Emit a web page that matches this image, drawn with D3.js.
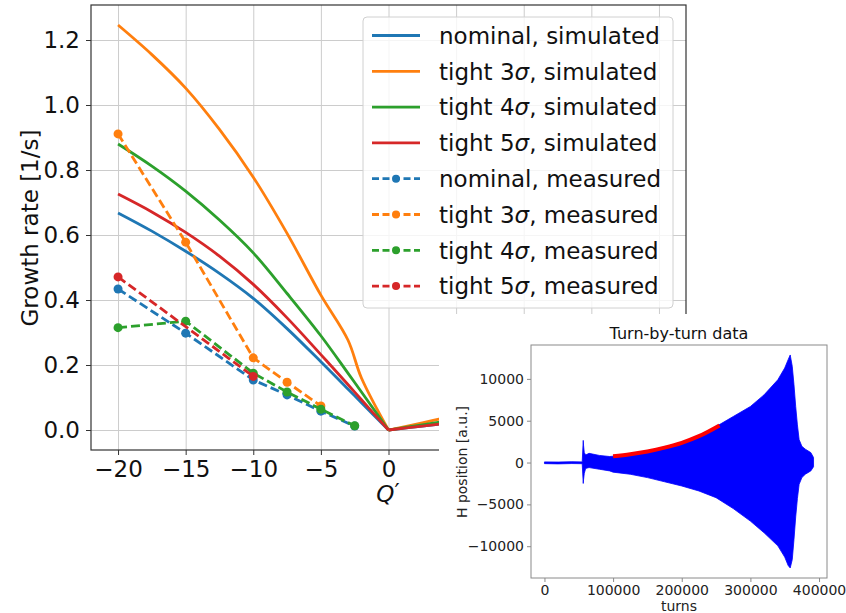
<!DOCTYPE html>
<html>
<head>
<meta charset="utf-8">
<script src="https://cdn.jsdelivr.net/npm/d3@7"></script>
<style>
  body { margin: 0; background: #fff; }
  svg { font-family: "DejaVu Sans", sans-serif; }
  .grid line { stroke: #cccccc; stroke-width: 1; }
  .grid path { display: none; }
</style>
</head>
<body>
<script>
// data
const seriesNames = ["nominal", "tight 3", "tight 4", "tight 5"];
const seriesColors = ["#1f77b4", "#ff7f0e", "#2ca02c", "#d62728"];

// simulated growth rates vs Q'
const simQ = [-20, -17.5, -15, -12.5, -10, -7.5, -5, -3, -2, 0, 2.5, 5, 10, 20];
const simNominal = [0.668, 0.612, 0.550, 0.482, 0.405, 0.312, 0.210, 0.126, 0.084, 0, 0.012, 0.024, 0.05, 0.1];
const simTight3 = [1.246, 1.155, 1.052, 0.925, 0.778, 0.605, 0.415, 0.277, 0.160, 0, 0.022, 0.045, 0.09, 0.18];
const simTight4 = [0.880, 0.812, 0.735, 0.646, 0.545, 0.420, 0.290, 0.175, 0.117, 0, 0.016, 0.032, 0.065, 0.13];
const simTight5 = [0.726, 0.671, 0.608, 0.535, 0.448, 0.345, 0.232, 0.140, 0.093, 0, 0.012, 0.024, 0.05, 0.1];

// measured growth rates (null = no measurement)
const measQ = [-20, -15, -10, -7.5, -5, -2.5];
const measNominal = [0.434, 0.298, 0.154, 0.108, 0.058, 0.012];
const measTight3 = [0.911, 0.578, 0.222, 0.147, 0.074, null];
const measTight4 = [0.315, 0.335, 0.175, 0.117, 0.064, 0.013];
const measTight5 = [0.471, null, 0.165, null, null, null];

const mainXTicks = [-20, -15, -10, -5, 0];
const mainYTicks = [0, 0.2, 0.4, 0.6, 0.8, 1.0, 1.2];

// inset: turn-by-turn envelope
const tbtTurns = [0, 20000, 40000, 55000, 56500, 57000, 58000, 60000, 65000, 80000, 95000, 100000,
  125000, 150000, 175000, 200000, 225000, 250000, 275000, 300000, 320000, 340000, 350000, 355000,
  358000, 361000, 363500, 366000, 368500, 371000, 375000, 380000, 388000, 392000];
const tbtUpper = [80, 60, 100, 80, 2650, 2000, 1200, 900, 1100, 850, 720, 760,
  1020, 1350, 1800, 2400, 3200, 4300, 5500, 6700, 8100, 9900, 11300, 12300,
  12860, 11500, 9300, 6700, 4500, 2740, 1940, 1600, 1190, 600];
const tbtLower = [-130, -160, -120, -140, -2500, -2000, -1300, -700, -600, -800, -1000, -1150,
  -1400, -1800, -2300, -2800, -3400, -4200, -5500, -7000, -8400, -9960, -11300, -12300,
  -12600, -11600, -9200, -6500, -4300, -2600, -1800, -1400, -1000, -500];
const fitTurns = [100000, 125000, 150000, 175000, 200000, 225000, 255000];
const fitValues = [750, 1000, 1330, 1780, 2360, 3150, 4440];
const insetXTicks = [0, 100000, 200000, 300000, 400000];
const insetYTicks = [-10000, -5000, 0, 5000, 10000];

const svgWidth = 846, svgHeight = 613;
const main = { left: 91, top: 5, right: 686, bottom: 450 };
const inset = { left: 531, top: 345, right: 827, bottom: 578 };

let svg = d3.select("body").append("svg")
    .attr("width", svgWidth)
    .attr("height", svgHeight);

// ---------- main plot ----------
let x = d3.scaleLinear().domain([-22, 22]).range([main.left, main.right]);
let y = d3.scaleLinear().domain([-0.0615, 1.3077]).range([main.bottom, main.top]);

svg.append("defs").append("clipPath").attr("id", "mainclip")
  .append("rect")
    .attr("x", main.left).attr("y", main.top)
    .attr("width", main.right - main.left).attr("height", main.bottom - main.top);

// gridlines
svg.append("g").attr("class", "grid")
    .attr("transform", `translate(0, ${main.bottom})`)
    .call(d3.axisBottom(x).tickValues([-20, -15, -10, -5, 0, 5, 10, 15, 20]).tickSize(-(main.bottom - main.top)).tickFormat(""));
svg.append("g").attr("class", "grid")
    .attr("transform", `translate(${main.left}, 0)`)
    .call(d3.axisLeft(y).tickValues(mainYTicks).tickSize(-(main.right - main.left)).tickFormat(""));

let plot = svg.append("g").attr("clip-path", "url(#mainclip)");

const simSeries = [simNominal, simTight3, simTight4, simTight5];
const measSeries = [measNominal, measTight3, measTight4, measTight5];

// smooth on each side of Q' = 0, keep the corner at 0
let simLine = d3.line()
    .curve(d3.curveCatmullRom.alpha(0.5))
    .x((d) => x(d.q))
    .y((d) => y(d.v));
let measLine = d3.line()
    .x((d) => x(d.q))
    .y((d) => y(d.v));

simSeries.forEach((vals, i) => {
    let pts = simQ.map((q, j) => ({ q: q, v: vals[j] }));
    [pts.filter((d) => d.q <= 0), pts.filter((d) => d.q >= 0)].forEach((part) => {
        plot.append("path")
            .attr("d", simLine(part))
            .attr("fill", "none")
            .attr("stroke", seriesColors[i])
            .attr("stroke-width", 2.8);
    });
});

measSeries.forEach((vals, i) => {
    let pts = measQ.map((q, j) => ({ q: q, v: vals[j] })).filter((d) => d.v !== null);
    plot.append("path")
        .attr("d", measLine(pts))
        .attr("fill", "none")
        .attr("stroke", seriesColors[i])
        .attr("stroke-width", 2.8)
        .attr("stroke-dasharray", "9,4");
    plot.selectAll(null)
        .data(pts)
        .join("circle")
        .attr("cx", (d) => x(d.q))
        .attr("cy", (d) => y(d.v))
        .attr("r", 4.5)
        .attr("fill", seriesColors[i]);
});

// frame
svg.append("rect")
    .attr("x", main.left).attr("y", main.top)
    .attr("width", main.right - main.left).attr("height", main.bottom - main.top)
    .attr("fill", "none").attr("stroke", "#333").attr("stroke-width", 1.2);

// axes
let xAxis = svg.append("g")
    .attr("transform", `translate(0, ${main.bottom})`)
    .call(d3.axisBottom(x).tickValues(mainXTicks).tickSize(5).tickPadding(6).tickFormat(d3.format("d")));
let yAxis = svg.append("g")
    .attr("transform", `translate(${main.left}, 0)`)
    .call(d3.axisLeft(y).tickValues(mainYTicks).tickSize(5).tickPadding(6).tickFormat(d3.format(".1f")));
[xAxis, yAxis].forEach((a) => {
    a.select(".domain").remove();
    a.selectAll(".tick line").attr("stroke", "#333");
    a.selectAll("text").attr("font-size", 23).attr("fill", "#111").attr("font-family", "DejaVu Sans");
});

svg.append("text")
    .attr("transform", "translate(38, 228) rotate(-90)")
    .attr("text-anchor", "middle")
    .attr("font-size", 23)
    .attr("fill", "#111")
    .text("Growth rate [1/s]");

let qLabel = svg.append("text")
    .attr("x", 388).attr("y", 502)
    .attr("text-anchor", "middle")
    .attr("font-size", 23)
    .attr("fill", "#111");
qLabel.append("tspan").attr("font-style", "italic").text("Q");
qLabel.append("tspan").attr("dy", -2).text("′");

// legend
let legend = svg.append("g");
legend.append("rect")
    .attr("x", 363).attr("y", 17).attr("width", 310).attr("height", 291)
    .attr("rx", 4)
    .attr("fill", "#fff").attr("fill-opacity", 0.8)
    .attr("stroke", "#d0d0d0");

let legendItems = [];
["simulated", "measured"].forEach((kind) => {
    seriesNames.forEach((name, i) => legendItems.push({ name: name, kind: kind, color: seriesColors[i] }));
});

legendItems.forEach((d, i) => {
    let ly = 35.5 + i * 35.8;
    legend.append("line")
        .attr("x1", 372).attr("x2", 420).attr("y1", ly).attr("y2", ly)
        .attr("stroke", d.color).attr("stroke-width", 2.8)
        .attr("stroke-dasharray", d.kind == "measured" ? "7,3.5" : null);
    if (d.kind == "measured") {
        legend.append("circle").attr("cx", 396).attr("cy", ly).attr("r", 4).attr("fill", d.color);
    }
    let t = legend.append("text")
        .attr("x", 439).attr("y", ly).attr("dy", "0.36em")
        .attr("font-size", 23).attr("fill", "#111");
    if (d.name == "nominal") {
        t.append("tspan").text("nominal, " + d.kind);
    } else {
        t.append("tspan").text(d.name);
        t.append("tspan").attr("font-style", "italic").text("σ");
        t.append("tspan").text(", " + d.kind);
    }
});

// ---------- inset ----------
svg.append("rect")
    .attr("x", 439).attr("y", 314).attr("width", svgWidth - 439).attr("height", svgHeight - 314)
    .attr("fill", "#fff");

let ix = d3.scaleLinear().domain([-19600, 411600]).range([inset.left, inset.right]);
let iy = d3.scaleLinear().domain([-13800, 14050]).range([inset.bottom, inset.top]);

let tbt = tbtTurns.map((t, j) => ({ t: t, hi: tbtUpper[j], lo: tbtLower[j] }));
svg.append("path")
    .attr("d", d3.area().x((d) => ix(d.t)).y0((d) => iy(d.lo)).y1((d) => iy(d.hi))(tbt))
    .attr("fill", "#0000ff")
    .attr("stroke", "#0000ff")
    .attr("stroke-width", 0.8);

let fit = fitTurns.map((t, j) => ({ t: t, v: fitValues[j] }));
svg.append("path")
    .attr("d", d3.line().curve(d3.curveMonotoneX).x((d) => ix(d.t)).y((d) => iy(d.v))(fit))
    .attr("fill", "none")
    .attr("stroke", "#ff0000")
    .attr("stroke-width", 4);

svg.append("rect")
    .attr("x", inset.left).attr("y", inset.top)
    .attr("width", inset.right - inset.left).attr("height", inset.bottom - inset.top)
    .attr("fill", "none").attr("stroke", "#8a8a8a").attr("stroke-width", 1);

let ixAxis = svg.append("g")
    .attr("transform", `translate(0, ${inset.bottom})`)
    .call(d3.axisBottom(ix).tickValues(insetXTicks).tickSize(4).tickPadding(3).tickFormat(d3.format("d")));
let iyAxis = svg.append("g")
    .attr("transform", `translate(${inset.left}, 0)`)
    .call(d3.axisLeft(iy).tickValues(insetYTicks).tickSize(4).tickPadding(3).tickFormat(d3.format("d")));
[ixAxis, iyAxis].forEach((a) => {
    a.select(".domain").remove();
    a.selectAll(".tick line").attr("stroke", "#8a8a8a");
    a.selectAll("text").attr("font-size", 14).attr("fill", "#222").attr("font-family", "DejaVu Sans");
});

svg.append("text")
    .attr("x", 679).attr("y", 339)
    .attr("text-anchor", "middle")
    .attr("font-size", 16).attr("fill", "#111")
    .text("Turn-by-turn data");
svg.append("text")
    .attr("x", 679).attr("y", 611)
    .attr("text-anchor", "middle")
    .attr("font-size", 14).attr("fill", "#222")
    .text("turns");
svg.append("text")
    .attr("transform", "translate(467, 462) rotate(-90)")
    .attr("text-anchor", "middle")
    .attr("font-size", 14).attr("fill", "#222")
    .text("H position [a.u.]");
</script>
</body>
</html>
